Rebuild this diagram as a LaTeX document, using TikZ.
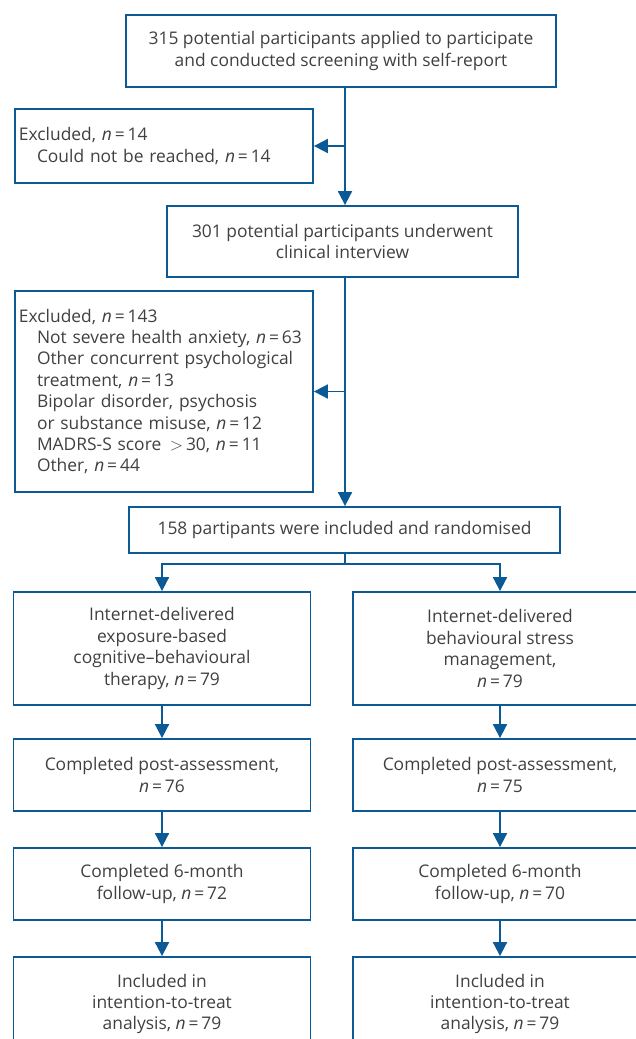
\documentclass[tikz,border=0pt]{standalone}
\usepackage{fontspec}
\setmainfont{Open Sans}
\usetikzlibrary{arrows.meta,calc}
\definecolor{fblue}{HTML}{0B5A96}
\definecolor{ftext}{HTML}{404040}
\newcommand{\nn}[1]{\textit{n}\,=\,#1}
\newcommand{\ind}{\hspace*{18pt}}
\tikzset{
  box/.style={draw=fblue, line width=1.8pt, inner sep=2pt, align=center, text=ftext,
    font=\fontsize{17.4}{21.4}\selectfont},
  lbox/.style={box, align=left, inner xsep=4pt},
  link/.style={draw=fblue, line width=1.8pt},
  arr/.style={link, -{Triangle[width=14pt,length=14pt]}}
}
\begin{document}
\begin{tikzpicture}[x=1pt,y=1pt]
\useasboundingbox (0,0) rectangle (636,-1039);
\clip (0,0) rectangle (636,-1039);
\node[box, minimum width=430, minimum height=72] (b1) at (341,-51)
  {315 potential participants applied to participate\\and conducted screening with self-report};
\node[lbox, minimum width=298, minimum height=74, text width=290] (e1) at (164,-146)
  {Excluded, \nn{14}\\\ind Could not be reached, \nn{14}};
\node[box, minimum width=351, minimum height=71] (b2) at (342.5,-241.5)
  {301 potential participants underwent\\clinical interview};
\node[lbox, minimum width=298, minimum height=201, text width=290] (e2) at (164,-391.5)
  {Excluded, \nn{143}\\
   \ind Not severe health anxiety, \nn{63}\\
   \ind Other concurrent psychological\\
   \ind treatment, \nn{13}\\
   \ind Bipolar disorder, psychosis\\
   \ind or substance misuse, \nn{12}\\
   \ind MADRS-S score \,$>$\,30, \nn{11}\\
   \ind Other, \nn{44}};
\node[box, minimum width=431, minimum height=46] (b3) at (344.5,-530)
  {158 partipants were included and randomised};
% left column
\node[box, minimum width=297, minimum height=113] (l1) at (162,-648.5)
  {Internet-delivered\\exposure-based\\cognitive--behavioural\\therapy, \nn{79}};
\node[box, minimum width=297, minimum height=72] (l2) at (162,-775)
  {Completed post-assessment,\\\nn{76}};
\node[box, minimum width=297, minimum height=72] (l3) at (162,-884)
  {Completed 6-month\\follow-up, \nn{72}};
\node[box, minimum width=297, minimum height=94] (l4) at (162,-1004)
  {Included in\\intention-to-treat\\analysis, \nn{79}};
% right column
\node[box, minimum width=294, minimum height=113] (r1) at (500,-648.5)
  {Internet-delivered\\behavioural stress\\management,\\\nn{79}};
\node[box, minimum width=294, minimum height=72] (r2) at (500,-775)
  {Completed post-assessment,\\\nn{75}};
\node[box, minimum width=294, minimum height=72] (r3) at (500,-884)
  {Completed 6-month\\follow-up, \nn{70}};
\node[box, minimum width=294, minimum height=94] (r4) at (500,-1004)
  {Included in\\intention-to-treat\\analysis, \nn{79}};
% connectors
\coordinate (sp) at (345,0);
\draw[arr] (b1.south -| sp) -- (b2.north -| sp);
\draw[arr] (e1.east -| sp) -- (e1.east);
\draw[arr] (b2.south -| sp) -- (b3.north -| sp);
\draw[arr] (e2.east -| sp) -- (e2.east);
\draw[link] (b3.south -| sp) -- ++(0,-10) coordinate (sj);
\draw[arr] (sj) -| (l1.north);
\draw[arr] (sj) -| (r1.north);
\draw[arr] (l1) -- (l2);
\draw[arr] (l2) -- (l3);
\draw[arr] (l3) -- (l4);
\draw[arr] (r1) -- (r2);
\draw[arr] (r2) -- (r3);
\draw[arr] (r3) -- (r4);
\end{tikzpicture}
\end{document}
